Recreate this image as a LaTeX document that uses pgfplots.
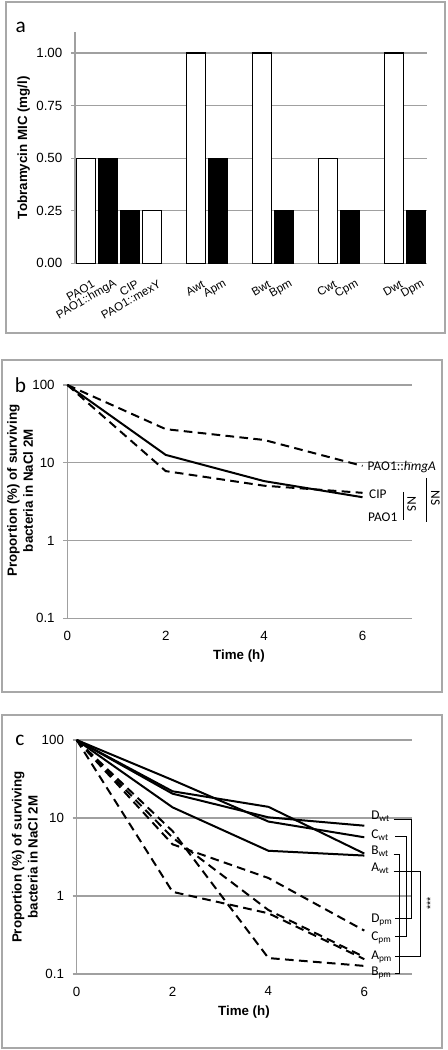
\documentclass[border=0pt]{standalone}
\usepackage{fontspec}
\setmainfont{Liberation Sans}
\newfontfamily\calibri{Carlito}
\usepackage{pgfplots}
\pgfplotsset{compat=1.18}
\definecolor{gridgray}{HTML}{A0A0A0}
\definecolor{framegray}{HTML}{A8A8A8}
\newcommand{\lblfont}{\fontsize{10}{12}\selectfont\bfseries}
\pgfplotsset{
 common/.style={
   scale only axis,
   axis lines=left,
   axis line style={-, draw=gridgray, line width=1pt},
   ymajorgrids,
   grid style={gridgray, line width=1pt},
   tick align=outside,
   major tick length=3pt,
   ytick style={draw=gridgray, line width=1pt},
   xtick style={draw=none},
   tick label style={font=\fontsize{10}{12}\selectfont},
   /pgf/number format/assume math mode=true,
   yticklabel style={xshift=-3pt},
   clip=false,
 },
 sol/.style={black, line width=1.5pt},
 das/.style={black, line width=1.5pt, dash pattern=on 6.5pt off 4pt},
}
\tikzset{lab/.style={anchor=west, inner sep=0pt, font=\calibri\fontsize{10}{12}\selectfont}}
\begin{document}
\begin{tikzpicture}
\path[use as bounding box] (0,0) rectangle (336pt,787.5pt);
\draw[framegray, line width=1.2pt] (4.5pt,537.75pt) rectangle (333.75pt,786pt);
\draw[framegray, line width=1.2pt] (1.5pt,268.5pt) rectangle (331.5pt,517.5pt);
\draw[framegray, line width=1.2pt] (1.5pt,1.5pt) rectangle (331.5pt,251.25pt);
\node[font=\calibri\fontsize{16}{18}\selectfont] at (15.5pt,767.25pt) {a};
\node[font=\calibri\fontsize{16}{18}\selectfont] at (15.4pt,498.4pt) {b};
\node[font=\calibri\fontsize{16}{18}\selectfont] at (15pt,232.5pt) {c};

% ---------- panel a ----------
\begin{axis}[common, at={(56.25pt,590pt)}, anchor=south west,
  width=264pt, height=173.5pt,
  xmin=-0.5, xmax=15.5, ymin=0, ymax=1.1,
  ytick={0,0.25,0.5,0.75,1},
  yticklabels={0.00,0.25,0.50,0.75,1.00},
  xtick={0,1,2,3,5,6,8,9,11,12,14,15},
  xticklabels={PAO1,PAO1::hmgA,CIP,PAO1::mexY,Awt,Apm,Bwt,Bpm,Cwt,Cpm,Dwt,Dpm},
  xticklabel style={rotate=30, anchor=east, font=\fontsize{8.7}{10}\selectfont, yshift=-13pt, xshift=2.5pt},
  ylabel={Tobramycin MIC (mg/l)},
  every axis y label/.style={at={(axis description cs:-0.146,0.5)}, rotate=90, anchor=center, font=\lblfont},
]
\addplot[ybar, bar width=0.88, bar shift=0pt, fill=white, draw=black, line width=1pt]
  coordinates {(0,0.5)(3,0.25)(5,1)(8,1)(11,0.5)(14,1)};
\addplot[ybar, bar width=0.88, bar shift=0pt, fill=black, draw=black, line width=1pt]
  coordinates {(1,0.5)(2,0.25)(6,0.5)(9,0.25)(12,0.25)(15,0.25)};
\end{axis}

% ---------- panel b ----------
\begin{axis}[common, at={(50.5pt,323.8pt)}, anchor=south west,
  width=258.3pt, height=175pt,
  ymode=log, yminorticks=false,
  xmin=0, xmax=7, ymin=0.1, ymax=100,
  ytick={0.1,1,10,100}, yticklabels={0.1,1,10,100},
  xtick={0,2,4,6}, xticklabels={0,2,4,6},
  xticklabel style={yshift=-3pt},
  xlabel={Time (h)},
  every axis x label/.style={at={(axis description cs:0.4985,-0.1616)}, anchor=center, font=\lblfont},
  ylabel={Proportion (\%) of surviving\\bacteria in NaCl 2M},
  every axis y label/.style={at={(axis description cs:-0.137,0.547)}, rotate=90, anchor=center, align=center, font=\lblfont},
]
\addplot[sol] coordinates {(0,100)(2,12.6)(4,5.8)(6,3.6)};
\addplot[das] coordinates {(0,100)(2,27)(4,19.6)(6,9.1)};
\addplot[das] coordinates {(0,100)(2,7.8)(4,5.06)(6,4.1)};
\node[lab] at (axis cs:6.10,8.84) {PAO1::\textit{hmgA}};
\node[lab] at (axis cs:6.13,3.97) {CIP};
\node[lab] at (axis cs:6.11,2.01) {PAO1};
\draw[black, line width=1.1pt] (axis cs:6.83,4.22) -- (axis cs:6.83,1.84);
\draw[black, line width=1.1pt] (axis cs:7.295,6.38) -- (axis cs:7.295,1.73);
\node[rotate=-90, inner sep=0pt, font=\calibri\fontsize{10}{12}\selectfont] at (axis cs:7.0,2.95) {NS};
\node[rotate=-90, inner sep=0pt, font=\calibri\fontsize{10}{12}\selectfont] at (axis cs:7.48,3.53) {NS};
\end{axis}

% ---------- panel c ----------
\begin{axis}[common, at={(57.5pt,57pt)}, anchor=south west,
  width=251.7pt, height=175.5pt,
  ymode=log, yminorticks=false,
  xmin=0, xmax=7, ymin=0.1, ymax=100,
  ytick={0.1,1,10,100}, yticklabels={0.1,1,10,100},
  xtick={0,2,4,6}, xticklabels={0,2,4,6},
  xticklabel style={yshift=-3pt},
  xlabel={Time (h)},
  every axis x label/.style={at={(axis description cs:0.4985,-0.161)}, anchor=center, font=\lblfont},
  ylabel={Proportion (\%) of surviving\\bacteria in NaCl 2M},
  every axis y label/.style={at={(axis description cs:-0.154,0.5)}, rotate=90, anchor=center, align=center, font=\lblfont},
]
\addplot[sol] coordinates {(0,100)(2,30.7)(4,9.0)(6,5.66)};
\addplot[sol] coordinates {(0,100)(2,20.5)(4,10.2)(6,7.97)};
\addplot[sol] coordinates {(0,100)(2,22)(4,13.9)(6,3.5)};
\addplot[sol] coordinates {(0,100)(2,13.7)(4,3.8)(6,3.3)};
\addplot[das] coordinates {(0,100)(2,4.6)(4,1.7)(6,0.36)};
\addplot[das] coordinates {(0,100)(2,5.6)(4,0.66)(6,0.165)};
\addplot[das] coordinates {(0,100)(2,6.8)(4,0.16)(6,0.127)};
\addplot[das] coordinates {(0,100)(2,1.13)(4,0.60)(6,0.155)};
\node[lab] at (axis cs:6.14,10.4) {D\textsubscript{wt}};
\node[lab] at (axis cs:6.14,6.05) {C\textsubscript{wt}};
\node[lab] at (axis cs:6.14,3.70) {B\textsubscript{wt}};
\node[lab] at (axis cs:6.14,2.29) {A\textsubscript{wt}};
\node[lab] at (axis cs:6.14,0.492) {D\textsubscript{pm}};
\node[lab] at (axis cs:6.14,0.290) {C\textsubscript{pm}};
\node[lab] at (axis cs:6.14,0.167) {A\textsubscript{pm}};
\node[lab] at (axis cs:6.14,0.103) {B\textsubscript{pm}};
\draw[black, line width=0.7pt] (axis cs:6.61,9.7) -- (axis cs:6.99,9.7) -- (axis cs:6.99,0.522) -- (axis cs:6.65,0.522);
\draw[black, line width=0.7pt] (axis cs:6.65,5.75) -- (axis cs:6.876,5.75) -- (axis cs:6.876,0.30) -- (axis cs:6.65,0.30);
\draw[black, line width=0.7pt] (axis cs:6.61,3.43) -- (axis cs:6.74,3.43) -- (axis cs:6.74,0.1023) -- (axis cs:6.65,0.1023);
\draw[black, line width=0.7pt] (axis cs:6.61,2.05) -- (axis cs:7.17,2.05) -- (axis cs:7.17,0.167) -- (axis cs:6.65,0.167);
\node[rotate=90, inner sep=0pt, font=\fontsize{8}{9}\selectfont] at (axis cs:7.38,0.805) {***};
\end{axis}
\end{tikzpicture}
\end{document}
